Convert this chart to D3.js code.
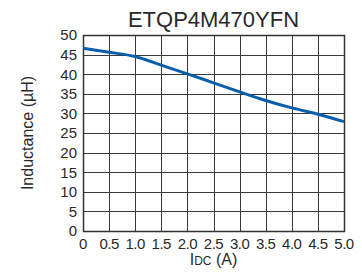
<!DOCTYPE html>
<html>
<head>
<meta charset="utf-8">
<script src="https://cdn.jsdelivr.net/npm/d3@7"></script>
<style>
  body { margin: 0; background: #fff; }
  text { font-family: "Liberation Sans", Arial, sans-serif; fill: #2a2a2a; }
</style>
</head>
<body>
<div id="chart"></div>
<script>
// data
const currentA = [0, 0.5, 1.0, 1.5, 2.0, 2.5, 3.0, 3.5, 4.0, 4.5, 5.0];
const inductanceUH = [46.6, 45.6, 44.5, 42.3, 40.1, 37.8, 35.5, 33.3, 31.4, 29.8, 27.9];
const xTicks = [0, 0.5, 1.0, 1.5, 2.0, 2.5, 3.0, 3.5, 4.0, 4.5, 5.0];
const yTicks = [0, 5, 10, 15, 20, 25, 30, 35, 40, 45, 50];
const title = "ETQP4M470YFN";

const W = 362, H = 276;
const margin = { top: 35, right: 18, bottom: 45, left: 83 };
const width = W - margin.left - margin.right;
const height = H - margin.top - margin.bottom;

const svg = d3.select("#chart").append("svg")
  .attr("width", W)
  .attr("height", H);

const g = svg.append("g")
  .attr("transform", `translate(${margin.left},${margin.top})`);

const x = d3.scaleLinear().domain([0, 5]).range([0, width]);
const y = d3.scaleLinear().domain([0, 50]).range([height, 0]);

// grid
g.selectAll(".vgrid")
  .data(xTicks)
  .enter().append("line")
    .attr("x1", d => Math.round(x(d)) + 0.5)
    .attr("x2", d => Math.round(x(d)) + 0.5)
    .attr("y1", 0)
    .attr("y2", height)
    .attr("stroke", "#3a3a3a")
    .attr("stroke-width", 1);

g.selectAll(".hgrid")
  .data(yTicks)
  .enter().append("line")
    .attr("x1", 0)
    .attr("x2", width)
    .attr("y1", d => Math.round(y(d)) + 0.5)
    .attr("y2", d => Math.round(y(d)) + 0.5)
    .attr("stroke", "#3a3a3a")
    .attr("stroke-width", 1);

// frame
g.append("rect")
  .attr("x", 0.5)
  .attr("y", 0.5)
  .attr("width", width)
  .attr("height", height)
  .attr("fill", "none")
  .attr("stroke", "#333")
  .attr("stroke-width", 1.5);

// curve
const line = d3.line()
  .x((d, i) => x(currentA[i]))
  .y(d => y(d))
  .curve(d3.curveMonotoneX);

g.append("path")
  .datum(inductanceUH)
  .attr("d", line)
  .attr("fill", "none")
  .attr("stroke", "#0a5fad")
  .attr("stroke-width", 3);

// tick labels
g.selectAll(".ylab")
  .data(yTicks)
  .enter().append("text")
    .attr("x", -6)
    .attr("y", d => y(d))
    .attr("dy", "0.36em")
    .attr("text-anchor", "end")
    .style("font-size", "15px")
    .text(d => d);

g.selectAll(".xlab")
  .data(xTicks)
  .enter().append("text")
    .attr("x", d => x(d))
    .attr("y", height + 18)
    .attr("text-anchor", "middle")
    .style("font-size", "15px")
    .style("letter-spacing", "-0.5px")
    .text(d => d === 0 ? "0" : d.toFixed(1));

// title
svg.append("text")
  .attr("x", margin.left + width / 2)
  .attr("y", 27)
  .attr("text-anchor", "middle")
  .style("font-size", "22px")
  .text(title);

// axis labels
const xl = svg.append("text")
  .attr("x", margin.left + width / 2)
  .attr("y", 265)
  .attr("text-anchor", "middle")
  .style("font-size", "16px");
xl.append("tspan").text("I");
xl.append("tspan").style("font-size", "12px").text("DC");
xl.append("tspan").text(" (A)");

svg.append("text")
  .attr("transform", `translate(33,${margin.top + height / 2}) rotate(-90)`)
  .attr("text-anchor", "middle")
  .style("font-size", "16px")
  .text("Inductance (\u00b5H)");
</script>
</body>
</html>
